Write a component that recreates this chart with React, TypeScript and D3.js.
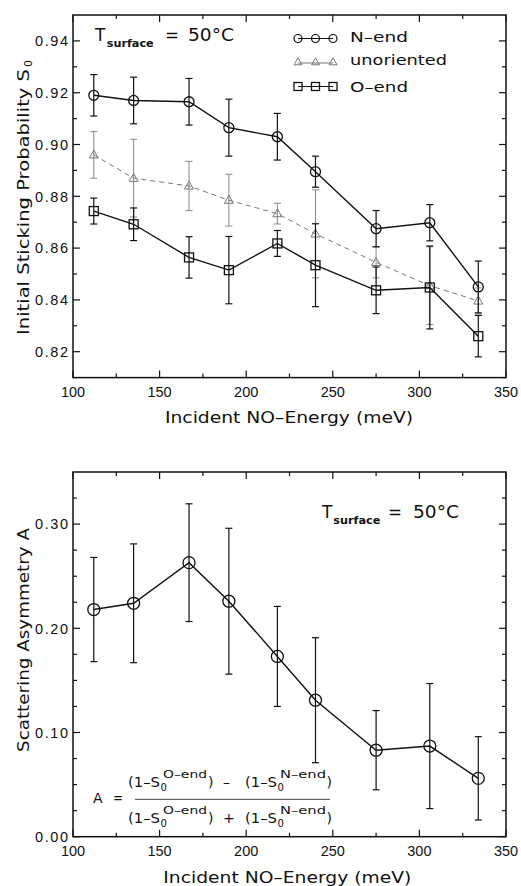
import React from "react";
import * as d3 from "d3";

const energies = [112, 135, 167, 190, 218, 240, 275, 306, 334];
const nEnd = [0.919, 0.917, 0.9165, 0.9065, 0.903, 0.8895, 0.8675, 0.8698, 0.845];
const nEndErr = [0.008, 0.009, 0.009, 0.011, 0.009, 0.006, 0.007, 0.007, 0.01];
const unoriented = [0.896, 0.887, 0.884, 0.8785, 0.8733, 0.8655, 0.8545, 0.8455, 0.8396];
const unorientedErr = [0.009, 0.015, 0.0095, 0.01, 0.004, 0.017, 0.006, 0.015, 0.005];
const oEnd = [0.8743, 0.8692, 0.8564, 0.8515, 0.8618, 0.8534, 0.8437, 0.8448, 0.826];
const oEndErr = [0.005, 0.0063, 0.008, 0.013, 0.005, 0.016, 0.009, 0.016, 0.008];
const asym = [0.218, 0.224, 0.263, 0.226, 0.173, 0.131, 0.083, 0.087, 0.056];
const asymErr = [0.05, 0.057, 0.0565, 0.07, 0.048, 0.06, 0.038, 0.06, 0.04];

const xTicks = [100, 150, 200, 250, 300, 350];
const xMinor = [125, 175, 225, 275, 325];
const topYTicks = [0.82, 0.84, 0.86, 0.88, 0.9, 0.92, 0.94];
const topYMinor = [0.81, 0.83, 0.85, 0.87, 0.89, 0.91, 0.93];
const botYTicks = [0.0, 0.1, 0.2, 0.3];
const botYMinor = [0.025, 0.05, 0.075, 0.125, 0.15, 0.175, 0.225, 0.25, 0.275, 0.325];

const FONT = "DejaVu Sans, sans-serif";
const TICKFONT = "Liberation Sans, Arial, sans-serif";
const L = 73, R = 506;
const INK = "#111";
const SG = "spacingAndGlyphs";

function Frame({ x, y, yTicks, yMinor, fmt }: any) {
  const [y0, y1] = y.range();
  const top = Math.min(y0, y1), bot = Math.max(y0, y1);
  const maj = 7, mn = 4;
  return (
    <g>
      <rect x={L} y={top} width={R - L} height={bot - top} fill="none" stroke={INK} strokeWidth={1.5} />
      {xTicks.map((t) => (
        <g key={"xt" + t}>
          <line x1={x(t)} x2={x(t)} y1={bot} y2={bot - maj} stroke={INK} strokeWidth={1.2} />
          <line x1={x(t)} x2={x(t)} y1={top} y2={top + maj} stroke={INK} strokeWidth={1.2} />
        </g>
      ))}
      {xMinor.map((t) => (
        <g key={"xm" + t}>
          <line x1={x(t)} x2={x(t)} y1={bot} y2={bot - mn} stroke={INK} strokeWidth={1.2} />
          <line x1={x(t)} x2={x(t)} y1={top} y2={top + mn} stroke={INK} strokeWidth={1.2} />
        </g>
      ))}
      {yTicks.map((t: number) => (
        <g key={"yt" + t}>
          <line x1={L} x2={L + maj} y1={y(t)} y2={y(t)} stroke={INK} strokeWidth={1.2} />
          <line x1={R} x2={R - maj} y1={y(t)} y2={y(t)} stroke={INK} strokeWidth={1.2} />
          <text x={68} y={y(t) + 5.2} textAnchor="end" fontSize={14.5} fontFamily={TICKFONT} fill={INK}
            textLength={33} lengthAdjust="spacing">{fmt(t)}</text>
        </g>
      ))}
      {yMinor.map((t: number) => (
        <g key={"ym" + t}>
          <line x1={L} x2={L + mn} y1={y(t)} y2={y(t)} stroke={INK} strokeWidth={1.2} />
          <line x1={R} x2={R - mn} y1={y(t)} y2={y(t)} stroke={INK} strokeWidth={1.2} />
        </g>
      ))}
      {xTicks.map((t) => (
        <text key={"xl" + t} x={x(t)} y={bot + 19} textAnchor="middle" fontSize={14.5} fontFamily={TICKFONT} fill={INK}>{t}</text>
      ))}
    </g>
  );
}

function ErrBars({ x, y, vals, errs, color, w = 1.2 }: any) {
  return (
    <g>
      {energies.map((e, i) => {
        const cx = x(e);
        const yt = y(vals[i] + errs[i]);
        const yb = y(vals[i] - errs[i]);
        return (
          <g key={i} stroke={color} strokeWidth={w}>
            <line x1={cx} x2={cx} y1={yt} y2={yb} />
            <line x1={cx - 3.5} x2={cx + 3.5} y1={yt} y2={yt} />
            <line x1={cx - 3.5} x2={cx + 3.5} y1={yb} y2={yb} />
          </g>
        );
      })}
    </g>
  );
}

function Circle({ cx, cy, r = 5 }: any) {
  return <circle cx={cx} cy={cy} r={r} fill="none" stroke={INK} strokeWidth={1.3} />;
}
function Square({ cx, cy, s = 9 }: any) {
  return <rect x={cx - s / 2} y={cy - s / 2} width={s} height={s} fill="none" stroke={INK} strokeWidth={1.3} />;
}
function Tri({ cx, cy, s = 9, color = "#777" }: any) {
  const h = s * 0.87;
  return (
    <path d={`M${cx},${cy - h * 0.6}L${cx + s / 2},${cy + h * 0.4}L${cx - s / 2},${cy + h * 0.4}Z`} fill="none" stroke={color} strokeWidth={1} />
  );
}

function TLabel({ x, y, sub, eq, val }: any) {
  return (
    <g fontFamily={FONT} fill={INK}>
      <text x={x} y={y} fontSize={17}>T</text>
      <text x={x + sub} y={y + 6} fontSize={10} fontWeight="bold" textLength={47} lengthAdjust={SG}>surface</text>
      <text x={x + eq} y={y} fontSize={17} textLength={14} lengthAdjust={SG}>=</text>
      <text x={x + val} y={y} fontSize={17} textLength={46} lengthAdjust={SG}>50°C</text>
    </g>
  );
}

function FracRow({ y, op }: any) {
  return (
    <g fontFamily={FONT} fill={INK}>
      <text x={128} y={y} fontSize={14} textLength={32} lengthAdjust={SG}>(1–S</text>
      <text x={160.5} y={y + 3.5} fontSize={10}>0</text>
      <text x={163} y={y - 9.5} fontSize={10} textLength={44} lengthAdjust={SG}>O–end</text>
      <text x={208} y={y} fontSize={14}>)</text>
      <text x={223} y={y} fontSize={14}>{op}</text>
      <text x={245} y={y} fontSize={14} textLength={32} lengthAdjust={SG}>(1–S</text>
      <text x={277.5} y={y + 3.5} fontSize={10}>0</text>
      <text x={280} y={y - 9.5} fontSize={10} textLength={46} lengthAdjust={SG}>N–end</text>
      <text x={326.5} y={y} fontSize={14}>)</text>
    </g>
  );
}

export default function App() {
  const x = d3.scaleLinear().domain([100, 350]).range([L, R]);
  const yTop = d3.scaleLinear().domain([0.81, 0.95]).range([377.6, 15]);
  const yBot = d3.scaleLinear().domain([0, 0.35]).range([836.7, 472]);
  const line = (y: any, vals: number[]) =>
    d3.line<number>().x((_, i) => x(energies[i])).y((v) => y(v))(vals) as string;

  const fmt2 = d3.format(".2f");
  const legendX = [298, 315.5, 333];

  return (
    <svg width={521} height={886} style={{ position: "absolute", left: 0, top: 0, background: "#fff" }}>
      <rect x={0} y={0} width={521} height={886} fill="#fff" />
      {/* Top panel */}
      <Frame x={x} y={yTop} yTicks={topYTicks} yMinor={topYMinor} fmt={fmt2} />
      <ErrBars x={x} y={yTop} vals={unoriented} errs={unorientedErr} color="#888" w={1} />
      <path d={line(yTop, unoriented)} fill="none" stroke="#777" strokeWidth={1} strokeDasharray="5,4" />
      {energies.map((e, i) => <Tri key={"t" + i} cx={x(e)} cy={yTop(unoriented[i])} />)}
      <ErrBars x={x} y={yTop} vals={oEnd} errs={oEndErr} color={INK} />
      <path d={line(yTop, oEnd)} fill="none" stroke={INK} strokeWidth={1.4} />
      {energies.map((e, i) => <Square key={"s" + i} cx={x(e)} cy={yTop(oEnd[i])} />)}
      <ErrBars x={x} y={yTop} vals={nEnd} errs={nEndErr} color={INK} />
      <path d={line(yTop, nEnd)} fill="none" stroke={INK} strokeWidth={1.4} />
      {energies.map((e, i) => <Circle key={"c" + i} cx={x(e)} cy={yTop(nEnd[i])} />)}

      <TLabel x={95} y={40.7} sub={11.7} eq={70} val={93} />
      {/* legend */}
      <g>
        <line x1={legendX[0]} x2={legendX[2]} y1={38.5} y2={38.5} stroke={INK} strokeWidth={1.2} />
        {legendX.map((cx) => <circle key={"lc" + cx} cx={cx} cy={38.5} r={4} fill="none" stroke={INK} strokeWidth={1.2} />)}
        <text x={350} y={41.7} fontSize={14} fontFamily={FONT} fill={INK} textLength={58} lengthAdjust={SG}>N–end</text>
        <line x1={legendX[0]} x2={legendX[2]} y1={63} y2={63} stroke="#777" strokeWidth={1} />
        {legendX.map((cx) => <Tri key={"lt" + cx} cx={cx} cy={62} s={8} />)}
        <text x={350} y={65} fontSize={14} fontFamily={FONT} fill={INK} textLength={97} lengthAdjust={SG}>unoriented</text>
        <line x1={legendX[0]} x2={legendX[2]} y1={86.5} y2={86.5} stroke={INK} strokeWidth={1.2} />
        {legendX.map((cx) => <Square key={"ls" + cx} cx={cx} cy={86.5} s={8} />)}
        <text x={350} y={91.7} fontSize={14} fontFamily={FONT} fill={INK} textLength={58} lengthAdjust={SG}>O–end</text>
      </g>
      <text transform="translate(28.5,335) rotate(-90)" fontSize={15.5} fontFamily={FONT} fill={INK}
        textLength={266} lengthAdjust={SG}>Initial Sticking Probability S</text>
      <text transform="translate(32,67) rotate(-90)" fontSize={11} fontFamily={FONT} fill={INK}>0</text>
      <text x={165} y={423.3} fontSize={16} fontFamily={FONT} fill={INK} textLength={248} lengthAdjust={SG}>Incident NO–Energy (meV)</text>

      {/* Bottom panel */}
      <Frame x={x} y={yBot} yTicks={botYTicks} yMinor={botYMinor} fmt={fmt2} />
      <ErrBars x={x} y={yBot} vals={asym} errs={asymErr} color={INK} />
      <path d={line(yBot, asym)} fill="none" stroke={INK} strokeWidth={1.4} />
      {energies.map((e, i) => <Circle key={"a" + i} cx={x(e)} cy={yBot(asym[i])} r={6} />)}
      <TLabel x={322} y={518.3} sub={11.3} eq={66} val={91} />
      <text transform="translate(28.5,752) rotate(-90)" fontSize={15.5} fontFamily={FONT} fill={INK}
        textLength={224} lengthAdjust={SG}>Scattering Asymmetry A</text>
      <text x={163.3} y={883} fontSize={16} fontFamily={FONT} fill={INK} textLength={248} lengthAdjust={SG}>Incident NO–Energy (meV)</text>

      {/* formula */}
      <text x={93} y={803} fontSize={14} fontFamily={FONT} fill={INK}>A</text>
      <text x={113} y={803} fontSize={14} fontFamily={FONT} fill={INK} textLength={10} lengthAdjust={SG}>=</text>
      <line x1={135} x2={330} y1={799.3} y2={799.3} stroke={INK} strokeWidth={0.8} />
      <FracRow y={787} op="–" />
      <FracRow y={823.3} op="+" />
    </svg>
  );
}
